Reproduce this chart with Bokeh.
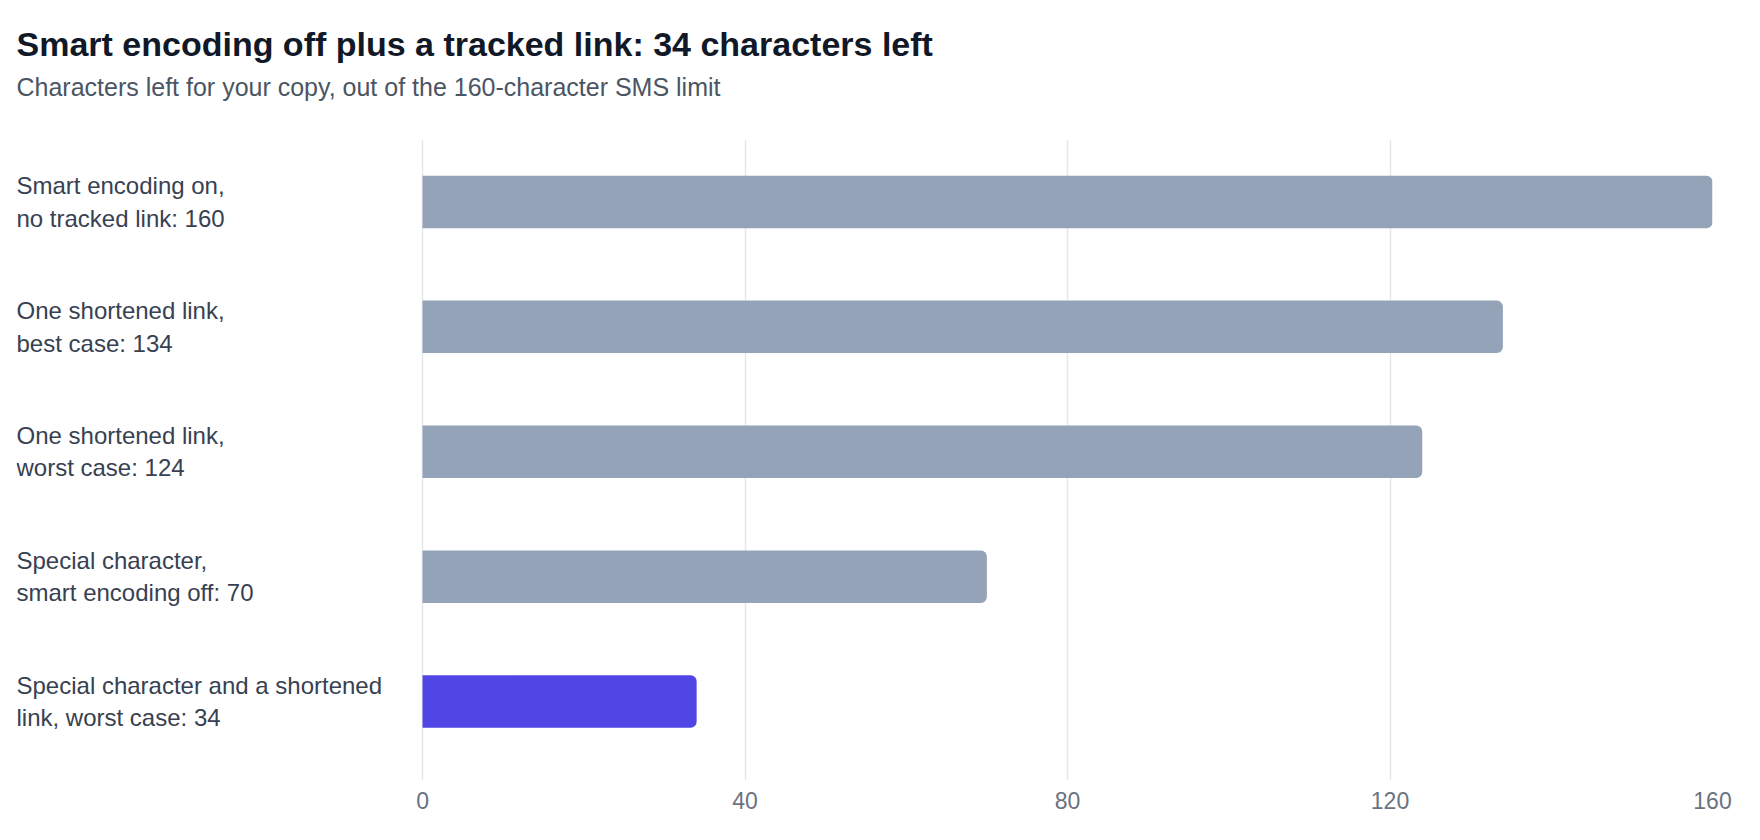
from bokeh.plotting import figure
from bokeh.models import ColumnDataSource, FixedTicker, Range1d, Title
from bokeh.core.properties import value
from bokeh.embed import file_html
from bokeh.resources import INLINE

# Data (top to bottom)
labels = [
    "Smart encoding on,\nno tracked link: 160",
    "One shortened link,\nbest case: 134",
    "One shortened link,\nworst case: 124",
    "Special character,\nsmart encoding off: 70",
    "Special character and a shortened\nlink, worst case: 34",
]
chars_left = [160, 134, 124, 70, 34]
highlight = [False, False, False, False, True]
x_ticks = [0, 40, 80, 120, 160]

title_text = "Smart encoding off plus a tracked link: 34 characters left"
subtitle_text = "Characters left for your copy, out of the 160-character SMS limit"

FONT = "Liberation Sans"
GREY_BAR = "#94a3b8"
ACCENT = "#4f46e5"

rows = list(range(len(labels)))
colors = [ACCENT if h else GREY_BAR for h in highlight]

# x range extends left of zero so the category labels sit inside the frame
x_start = -50.36
source = ColumnDataSource(data=dict(
    row=rows,
    value=chars_left,
    color=colors,
    label=labels,
    label_x=[x_start] * len(rows),
))

p = figure(
    width=1744, height=824,
    title=None,
    x_range=Range1d(x_start, 160),
    y_range=Range1d(4.632, -0.5),
    y_axis_location=None,
    toolbar_location=None,
    output_backend="svg",
    min_border_left=16, min_border_right=32,
    min_border_top=139, min_border_bottom=44,
)
p.outline_line_color = None
p.background_fill_color = "white"
p.border_fill_color = "white"

# spacer between subtitle and plot area
spacer = Title(text=" ", text_font_size="1px", standoff=36)
subtitle = Title(text=subtitle_text, align="left", text_font=FONT,
                 text_font_size="25px", text_font_style="normal",
                 text_color="#4b5563", standoff=0, text_line_height=1.0)
title = Title(text=title_text, align="left", text_font=FONT,
              text_font_size="34px", text_font_style="bold",
              text_color="#111827", standoff=16, text_line_height=1.0)
p.add_layout(spacer, "above")
p.add_layout(subtitle, "above")
p.add_layout(title, "above")

p.hbar(y="row", right="value", left=0, height=0.42, color="color",
       line_color=None, border_radius=(0, 6, 6, 0), source=source)

p.text(x="label_x", y="row", text="label", source=source,
       text_font=value(FONT), text_font_size="24px", text_color="#374151",
       text_align="left", text_baseline="middle", text_line_height=1.2)

p.xaxis.ticker = FixedTicker(ticks=x_ticks)
p.xaxis.axis_line_color = None
p.xaxis.major_tick_line_color = None
p.xaxis.minor_tick_line_color = None
p.xaxis.major_label_text_font = FONT
p.xaxis.major_label_text_font_size = "23px"
p.xaxis.major_label_text_color = "#6b7280"
p.xaxis.major_label_standoff = 5

p.xgrid.ticker = FixedTicker(ticks=x_ticks)
p.xgrid.grid_line_color = "#e5e7eb"
p.xgrid.grid_line_width = 1.5
p.ygrid.grid_line_color = None

open("out.html", "w").write(file_html(p, INLINE))
